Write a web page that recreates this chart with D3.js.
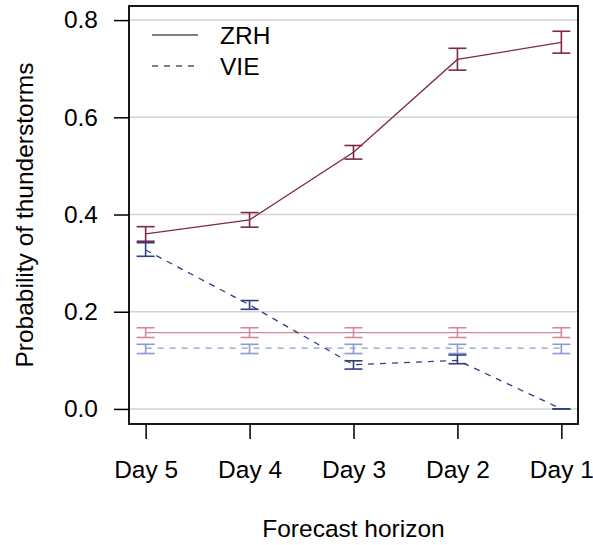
<!DOCTYPE html>
<html>
<head>
<meta charset="utf-8">
<script src="https://cdn.jsdelivr.net/npm/d3@7"></script>
<style>
  body { margin: 0; background: #fff; }
  svg text { font-family: "Liberation Sans", Arial, sans-serif; fill: #000; }
</style>
</head>
<body>
<div id="chart"></div>
<script>

// forecast horizons, left to right
var days = ["Day 5", "Day 4", "Day 3", "Day 2", "Day 1"];

// ZRH forecast probability with error bars
var zrh   = [0.360, 0.389, 0.528, 0.719, 0.754];
var zrhLo = [0.345, 0.374, 0.514, 0.697, 0.732];
var zrhHi = [0.375, 0.404, 0.542, 0.742, 0.777];

// VIE forecast probability with error bars
var vie   = [0.327, 0.214, 0.091, 0.100, 0.000];
var vieLo = [0.314, 0.205, 0.082, 0.093, 0.000];
var vieHi = [0.342, 0.223, 0.099, 0.111, 0.000];

// climatology (flat reference): value, low, high
var zrhClim = [0.157, 0.147, 0.167];
var vieClim = [0.125, 0.114, 0.133];

var yTicks = [0, 0.2, 0.4, 0.6, 0.8];

var colZrh = "#7d2945", colZrhLight = "#d4899b",
    colVie = "#2e3f80", colVieLight = "#8c9ad2";

var width = 593, height = 545,
    plotLeft = 129, plotRight = 578, plotTop = 6, plotBottom = 424,
    fontSize = 24.5;

var svg = d3.select("#chart").append("svg")
    .attr("width", width)
    .attr("height", height);

var x = d3.scaleLinear().domain([0.84, 5.16]).range([plotLeft, plotRight]);
var y = d3.scaleLinear().domain([-0.031, 0.829]).range([plotBottom, plotTop]);

// grid
svg.append("g").selectAll("line")
    .data(yTicks)
    .enter().append("line")
    .attr("x1", plotLeft).attr("x2", plotRight)
    .attr("y1", function(d) { return y(d); })
    .attr("y2", function(d) { return y(d); })
    .attr("stroke", "#d3d3d3")
    .attr("stroke-width", 1.5);

function series(values, lo, hi, color, dashed) {

    var pts = values.map(function(v, i) { return { x: i + 1, v: v, lo: lo[i], hi: hi[i] }; });
    var g = svg.append("g");

    g.append("path")
        .datum(pts)
        .attr("fill", "none")
        .attr("stroke", color)
        .attr("stroke-width", 1.3)
        .attr("stroke-dasharray", dashed ? "6,6" : null)
        .attr("d", d3.line().x(function(d) { return x(d.x); }).y(function(d) { return y(d.v); }));

    var bars = g.selectAll(".err").data(pts).enter().append("g")
        .attr("stroke", color)
        .attr("stroke-width", 1.6);

    bars.append("line")
        .attr("x1", function(d) { return x(d.x); })
        .attr("x2", function(d) { return x(d.x); })
        .attr("y1", function(d) { return y(d.lo); })
        .attr("y2", function(d) { return y(d.hi); });

    ["lo", "hi"].forEach(function(k) {
        bars.append("line")
            .attr("x1", function(d) { return x(d.x) - 9; })
            .attr("x2", function(d) { return x(d.x) + 9; })
            .attr("y1", function(d) { return y(d[k]); })
            .attr("y2", function(d) { return y(d[k]); });
    });
}

function flat(c) {
    return days.map(function() { return c; });
}

series(flat(zrhClim[0]), flat(zrhClim[1]), flat(zrhClim[2]), colZrhLight, false);
series(flat(vieClim[0]), flat(vieClim[1]), flat(vieClim[2]), colVieLight, true);
series(zrh, zrhLo, zrhHi, colZrh, false);
series(vie, vieLo, vieHi, colVie, true);

// box
svg.append("rect")
    .attr("x", plotLeft).attr("y", plotTop)
    .attr("width", plotRight - plotLeft).attr("height", plotBottom - plotTop)
    .attr("fill", "none")
    .attr("stroke", "#000")
    .attr("stroke-width", 1.8);

// y axis
var yAxis = svg.append("g").attr("transform", "translate(" + plotLeft + ",0)")
    .call(d3.axisLeft(y).tickValues(yTicks).tickFormat(d3.format(".1f")).tickSize(15).tickPadding(16));
yAxis.select(".domain").remove();
yAxis.selectAll("line").attr("stroke-width", 1.5);
yAxis.selectAll("text").attr("font-size", fontSize).attr("font-family", "Liberation Sans, Arial, sans-serif");

// x axis
var xAxis = svg.append("g").attr("transform", "translate(0," + plotBottom + ")")
    .call(d3.axisBottom(x).tickValues([1, 2, 3, 4, 5])
        .tickFormat(function(d) { return days[d - 1]; })
        .tickSize(15).tickPadding(22));
xAxis.select(".domain").remove();
xAxis.selectAll("line").attr("stroke-width", 1.5);
xAxis.selectAll("text").attr("font-size", fontSize).attr("font-family", "Liberation Sans, Arial, sans-serif");

// axis titles
svg.append("text")
    .attr("x", (plotLeft + plotRight) / 2).attr("y", 537)
    .attr("text-anchor", "middle")
    .attr("font-size", fontSize)
    .text("Forecast horizon");

svg.append("text")
    .attr("transform", "translate(33," + ((plotTop + plotBottom) / 2) + ") rotate(-90)")
    .attr("text-anchor", "middle")
    .attr("font-size", fontSize)
    .text("Probability of thunderstorms");

// legend
var legend = [["ZRH", null, 35], ["VIE", "6,6", 66]];
legend.forEach(function(l) {
    svg.append("line")
        .attr("x1", 152).attr("x2", 198)
        .attr("y1", l[2]).attr("y2", l[2])
        .attr("stroke", "#000")
        .attr("stroke-width", 1.2)
        .attr("stroke-dasharray", l[1]);
    svg.append("text")
        .attr("x", 220).attr("y", l[2])
        .attr("dy", "0.35em")
        .attr("font-size", fontSize)
        .text(l[0]);
});

</script>
</body>
</html>
